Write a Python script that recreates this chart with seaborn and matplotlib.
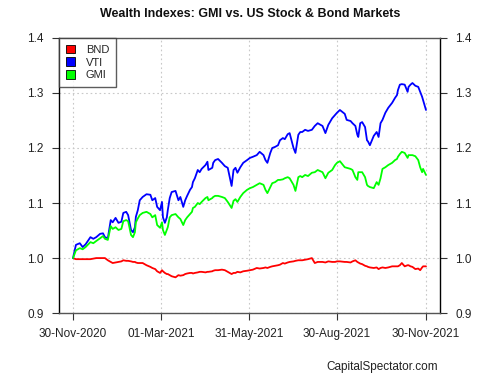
import seaborn as sns
import pandas as pd
import matplotlib.pyplot as plt
from matplotlib.patches import Patch

# dates of the readings taken off the chart
dates = [
    "2020-11-30", "2020-12-03", "2020-12-07", "2020-12-10", "2020-12-13", "2020-12-18",
    "2020-12-21", "2020-12-24", "2020-12-28", "2020-12-31", "2021-01-02", "2021-01-05",
    "2021-01-08", "2021-01-10", "2021-01-13", "2021-01-16", "2021-01-19", "2021-01-21",
    "2021-01-24", "2021-01-26", "2021-01-29", "2021-01-31", "2021-02-02", "2021-02-03",
    "2021-02-05", "2021-02-07", "2021-02-10", "2021-02-14", "2021-02-18", "2021-02-20",
    "2021-02-23", "2021-02-25", "2021-02-28", "2021-03-02", "2021-03-03", "2021-03-05",
    "2021-03-07", "2021-03-08", "2021-03-10", "2021-03-12", "2021-03-16", "2021-03-19",
    "2021-03-21", "2021-03-24", "2021-03-26", "2021-03-28", "2021-03-31", "2021-04-02",
    "2021-04-03", "2021-04-05", "2021-04-08", "2021-04-10", "2021-04-12", "2021-04-16",
    "2021-04-18", "2021-04-19", "2021-04-23", "2021-04-24", "2021-04-26", "2021-04-29",
    "2021-05-03", "2021-05-06", "2021-05-09", "2021-05-13", "2021-05-15", "2021-05-17",
    "2021-05-19", "2021-05-22", "2021-05-25", "2021-05-29", "2021-06-01", "2021-06-04",
    "2021-06-08", "2021-06-11", "2021-06-15", "2021-06-17", "2021-06-19", "2021-06-22",
    "2021-06-24", "2021-06-27", "2021-06-30", "2021-07-02", "2021-07-05", "2021-07-07",
    "2021-07-10", "2021-07-12", "2021-07-16", "2021-07-18", "2021-07-21", "2021-07-23",
    "2021-07-25", "2021-07-28", "2021-07-31", "2021-08-04", "2021-08-07", "2021-08-10",
    "2021-08-15", "2021-08-18", "2021-08-21", "2021-08-25", "2021-08-28", "2021-08-30",
    "2021-09-02", "2021-09-07", "2021-09-09", "2021-09-13", "2021-09-15", "2021-09-18",
    "2021-09-20", "2021-09-21", "2021-09-23", "2021-09-25", "2021-09-28", "2021-09-30",
    "2021-10-01", "2021-10-03", "2021-10-07", "2021-10-10", "2021-10-12", "2021-10-14",
    "2021-10-16", "2021-10-19", "2021-10-22", "2021-10-26", "2021-10-29", "2021-10-31",
    "2021-11-01", "2021-11-03", "2021-11-05", "2021-11-08", "2021-11-11", "2021-11-12",
    "2021-11-14", "2021-11-16", "2021-11-19", "2021-11-22", "2021-11-24", "2021-11-26",
    "2021-11-27", "2021-11-30",
]

vti = [
    1.000, 1.024, 1.027, 1.020, 1.025, 1.038, 1.035, 1.038, 1.044, 1.045, 1.038, 1.036,
    1.069, 1.065, 1.073, 1.064, 1.066, 1.082, 1.084, 1.078, 1.051, 1.047, 1.056, 1.075,
    1.087, 1.105, 1.111, 1.116, 1.115, 1.105, 1.109, 1.093, 1.087, 1.102, 1.074, 1.064,
    1.074, 1.087, 1.109, 1.120, 1.122, 1.105, 1.111, 1.093, 1.105, 1.113, 1.124, 1.129,
    1.138, 1.145, 1.160, 1.156, 1.162, 1.169, 1.175, 1.160, 1.164, 1.173, 1.178, 1.180,
    1.173, 1.167, 1.164, 1.131, 1.160, 1.164, 1.155, 1.165, 1.173, 1.178, 1.182, 1.184,
    1.187, 1.193, 1.187, 1.178, 1.173, 1.191, 1.200, 1.202, 1.205, 1.214, 1.218, 1.216,
    1.225, 1.227, 1.200, 1.191, 1.224, 1.229, 1.229, 1.233, 1.231, 1.233, 1.240, 1.245,
    1.240, 1.227, 1.242, 1.254, 1.260, 1.264, 1.269, 1.262, 1.251, 1.249, 1.245, 1.240,
    1.224, 1.220, 1.245, 1.247, 1.238, 1.214, 1.212, 1.205, 1.222, 1.229, 1.220, 1.245,
    1.251, 1.264, 1.273, 1.282, 1.291, 1.296, 1.305, 1.315, 1.316, 1.315, 1.302, 1.311,
    1.315, 1.318, 1.313, 1.311, 1.302, 1.293, 1.287, 1.269,
]

gmi = [
    1.000, 1.014, 1.018, 1.016, 1.020, 1.029, 1.027, 1.031, 1.036, 1.040, 1.035, 1.033,
    1.058, 1.053, 1.056, 1.051, 1.053, 1.067, 1.069, 1.067, 1.042, 1.038, 1.047, 1.065,
    1.072, 1.078, 1.082, 1.084, 1.080, 1.074, 1.078, 1.060, 1.055, 1.065, 1.051, 1.042,
    1.051, 1.056, 1.074, 1.078, 1.080, 1.074, 1.071, 1.060, 1.069, 1.074, 1.080, 1.084,
    1.091, 1.093, 1.100, 1.098, 1.102, 1.109, 1.111, 1.105, 1.109, 1.111, 1.113, 1.113,
    1.111, 1.109, 1.102, 1.091, 1.104, 1.107, 1.102, 1.111, 1.118, 1.124, 1.127, 1.129,
    1.133, 1.136, 1.133, 1.124, 1.118, 1.129, 1.136, 1.138, 1.142, 1.142, 1.143, 1.145,
    1.147, 1.145, 1.133, 1.122, 1.147, 1.149, 1.147, 1.151, 1.149, 1.155, 1.156, 1.160,
    1.156, 1.145, 1.155, 1.160, 1.169, 1.173, 1.176, 1.165, 1.164, 1.162, 1.160, 1.147,
    1.142, 1.156, 1.156, 1.156, 1.147, 1.133, 1.131, 1.129, 1.127, 1.138, 1.133, 1.145,
    1.162, 1.165, 1.169, 1.173, 1.178, 1.180, 1.184, 1.189, 1.193, 1.191, 1.182, 1.187,
    1.187, 1.187, 1.185, 1.178, 1.165, 1.156, 1.162, 1.151,
]

bnd = [
    1.000, 0.998, 0.998, 0.998, 0.998, 0.998, 0.999, 1.000, 1.000, 1.000, 1.000, 0.996,
    0.993, 0.991, 0.992, 0.993, 0.994, 0.996, 0.995, 0.995, 0.994, 0.993, 0.993, 0.992,
    0.991, 0.991, 0.991, 0.987, 0.984, 0.982, 0.980, 0.976, 0.973, 0.978, 0.976, 0.973,
    0.971, 0.971, 0.969, 0.967, 0.965, 0.969, 0.968, 0.969, 0.971, 0.972, 0.973, 0.973,
    0.972, 0.973, 0.974, 0.975, 0.975, 0.974, 0.975, 0.975, 0.976, 0.977, 0.978, 0.978,
    0.979, 0.978, 0.975, 0.971, 0.973, 0.973, 0.975, 0.974, 0.976, 0.977, 0.978, 0.979,
    0.982, 0.981, 0.982, 0.983, 0.982, 0.984, 0.985, 0.986, 0.987, 0.988, 0.991, 0.990,
    0.992, 0.993, 0.994, 0.995, 0.996, 0.996, 0.996, 0.997, 0.998, 1.000, 0.991, 0.993,
    0.993, 0.992, 0.994, 0.993, 0.993, 0.994, 0.994, 0.993, 0.993, 0.992, 0.994, 0.996,
    0.993, 0.992, 0.990, 0.989, 0.986, 0.985, 0.984, 0.983, 0.982, 0.983, 0.980, 0.982,
    0.983, 0.982, 0.983, 0.985, 0.985, 0.985, 0.985, 0.987, 0.991, 0.985, 0.987, 0.987,
    0.985, 0.984, 0.980, 0.981, 0.978, 0.983, 0.985, 0.985,
]

tick_dates = ["2020-11-30", "2021-03-01", "2021-05-31", "2021-08-30", "2021-11-30"]
tick_labels = ["30-Nov-2020", "01-Mar-2021", "31-May-2021", "30-Aug-2021", "30-Nov-2021"]
y_ticks = [0.9, 1.0, 1.1, 1.2, 1.3, 1.4]
names = ["BND", "VTI", "GMI"]
colors = {"BND": "#ff0000", "VTI": "#0000ff", "GMI": "#00ff00"}

sns.set_style("white")
plt.rcParams['font.family'] = ['Liberation Sans', 'DejaVu Sans']

df = pd.DataFrame({"Date": pd.to_datetime(dates), "BND": bnd, "VTI": vti, "GMI": gmi})
long = df.melt(id_vars="Date", var_name="Series", value_name="Value")

fig = plt.figure(figsize=(5, 3.75), dpi=100)
ax = fig.add_axes([0.118, 0.165, 0.762, 0.734])

sns.lineplot(data=long, x="Date", y="Value", hue="Series", hue_order=names,
             palette=colors, linewidth=1.3, legend=False, ax=ax)

pad = pd.Timedelta(days=14.5)
ax.set_xlim(pd.Timestamp(tick_dates[0]) - pad, pd.Timestamp(tick_dates[-1]) + pad)
ax.set_ylim(0.9, 1.4)

ax.set_xticks(pd.to_datetime(tick_dates))
ax.set_xticklabels(tick_labels, fontsize=8.5)
ax.set_yticks(y_ticks)
ax.set_yticklabels([f"{v:.1f}" for v in y_ticks], fontsize=8.5)
ax.tick_params(axis='both', direction='out', length=5, width=0.8, color='#333333',
               labelcolor='#222222', pad=6)
ax.tick_params(axis='y', right=True, labelright=True, left=True)
ax.tick_params(axis='x', bottom=True)
ax.set_xlabel("")
ax.set_ylabel("")

ax.grid(True, color='#c8c8c8', linestyle=(0, (1.5, 2.5)), linewidth=0.8)
ax.set_axisbelow(True)

for side in ['left', 'right']:
    ax.spines[side].set_color('black')
    ax.spines[side].set_linewidth(1.0)
for side in ['top', 'bottom']:
    ax.spines[side].set_color('#555555')
    ax.spines[side].set_linewidth(1.0)

handles = [Patch(facecolor=colors[n], edgecolor='black', linewidth=0.6, label=n) for n in names]
leg = ax.legend(handles=handles, loc='upper left', fontsize=8, frameon=True, fancybox=False,
                borderaxespad=0.0, handlelength=0.8, handleheight=0.8, handletextpad=1.0,
                labelspacing=0.25, borderpad=0.6)
leg.get_frame().set_edgecolor('#333333')
leg.get_frame().set_linewidth(1.0)

fig.text(0.5, 0.962, "Wealth Indexes: GMI vs. US Stock & Bond Markets",
         ha='center', va='center', fontsize=9, fontweight='bold', color='#111111')
fig.text(0.876, 0.021, "CapitalSpectator.com", ha='right', va='center', fontsize=8.5,
         color='#222222')

fig.savefig("out.png", dpi=100)
